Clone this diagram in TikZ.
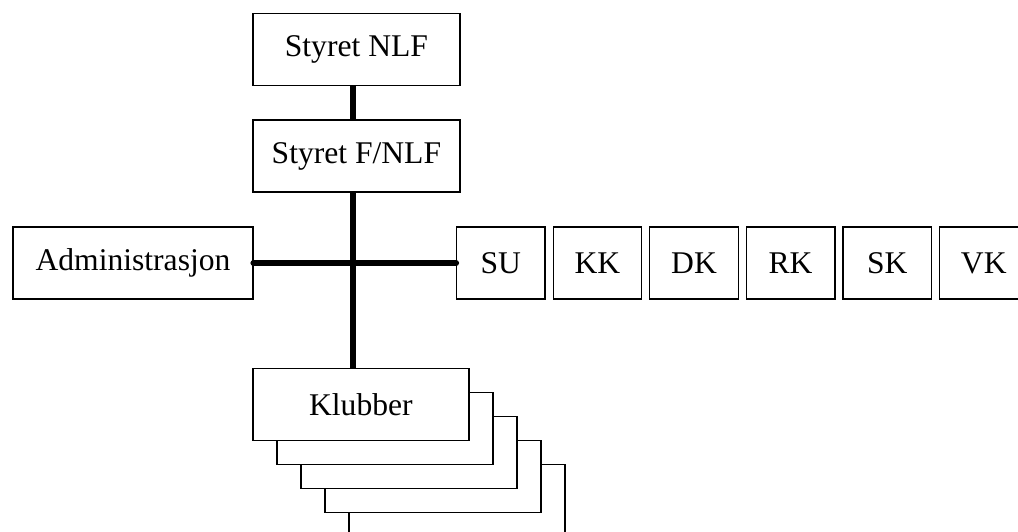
\documentclass[tikz,border=0pt]{standalone}
\usepackage{fontspec}
\setmainfont{Liberation Serif}

\begin{document}
\begin{tikzpicture}[x=1pt,y=-1pt,
    box/.style={draw,line width=1.3pt,fill=white,inner sep=0pt,
        minimum height=72pt,font=\fontsize{31.6}{36}\selectfont},
    spine/.style={line width=6.5pt}]
    \clip (0,0) rectangle (1018,532);
    \fill [white] (0,0) rectangle (1018,532);
    \node [box,minimum width=207pt] (nlf)  at (356.4,49.7) {Styret NLF};
    \node [box,minimum width=207pt] (fnlf) at (356.4,156)  {Styret F/NLF};
    \node [box,minimum width=240pt] (adm)  at (133,263)    {Administrasjon};
    \foreach \k [count=\i from 0] in {SU,KK,DK,RK,SK,VK}{
        \node [box,minimum width=88.5pt] (\k) at (500.8+96.6*\i,263) {\k};
    }
    % klubber, stacked
    \foreach \i in {4,3,2,1}{
        \node [box,minimum width=216pt] (klub\i) at (360.9+24*\i,404.5+24*\i) {};
    }
    \node [box,minimum width=216pt] (klub) at (360.9,404.5) {Klubber};
    \coordinate (hub) at (353,263);
    \draw [spine] (nlf.south -| hub) -- (fnlf.north -| hub);
    \draw [spine] (fnlf.south -| hub) -- (klub.north -| hub);
    \draw [spine,line cap=round] (adm.east) -- (SU.west);
\end{tikzpicture}
\end{document}
